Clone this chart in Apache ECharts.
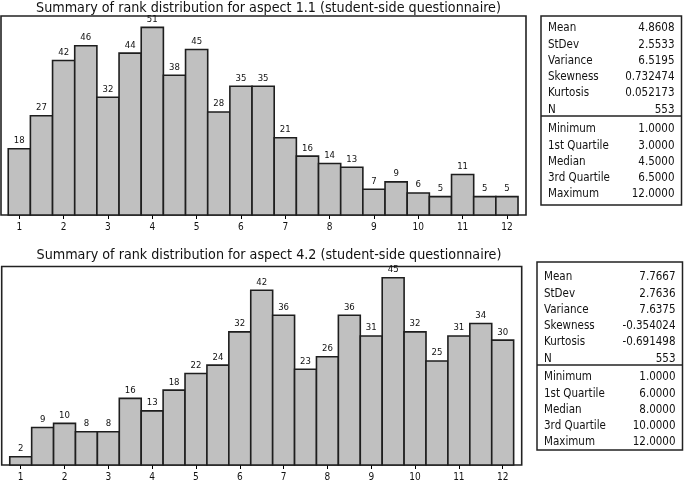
<!DOCTYPE html>
<html><head><meta charset="utf-8">
<script src="https://cdn.jsdelivr.net/npm/echarts@6/dist/echarts.min.js"></script>
<style>html,body{margin:0;padding:0;background:#fff}#c{width:685px;height:482px}</style>
</head><body><div id="c"></div>
<script>
const binCenters = [1,1.5,2,2.5,3,3.5,4,4.5,5,5.5,6,6.5,7,7.5,8,8.5,9,9.5,10,10.5,11,11.5,12];
const tickValues = [1,2,3,4,5,6,7,8,9,10,11,12];
const counts11 = [18,27,42,46,32,44,51,38,45,28,35,35,21,16,14,13,7,9,6,5,11,5,5];
const counts42 = [2,9,10,8,8,16,13,18,22,24,32,42,36,23,26,36,31,45,32,25,31,34,30];
const title11 = 'Summary of rank distribution for aspect 1.1 (student-side questionnaire)';
const title42 = 'Summary of rank distribution for aspect 4.2 (student-side questionnaire)';
const statLabelsA = ['Mean','StDev','Variance','Skewness','Kurtosis','N'];
const statLabelsB = ['Minimum','1st Quartile','Median','3rd Quartile','Maximum'];
const stats11A = ['4.8608','2.5533','6.5195','0.732474','0.052173','553'];
const stats11B = ['1.0000','3.0000','4.5000','6.5000','12.0000'];
const stats42A = ['7.7667','2.7636','7.6375','-0.354024','-0.691498','553'];
const stats42B = ['1.0000','6.0000','8.0000','10.0000','12.0000'];

const FONT = '"DejaVu Sans Condensed", "DejaVu Sans"';
const chart = echarts.init(document.getElementById('c'));

function barSeries(idx, counts){
  return {
    type:'custom', xAxisIndex:idx, yAxisIndex:idx,
    data: binCenters.map((c,i)=>[c, counts[i]]),
    renderItem(params, api){
      const x = api.value(0), y = api.value(1);
      const p0 = api.coord([x-0.25, y]);
      const p1 = api.coord([x+0.25, 0]);
      return {
        type:'group',
        children:[
          {type:'rect', shape:{x:p0[0], y:p0[1], width:p1[0]-p0[0], height:p1[1]-p0[1]},
           style:{fill:'#c0c0c0', stroke:'#1e1e1e', lineWidth:1.6}},
          {type:'text', x:(p0[0]+p1[0])/2, y:p0[1]-3,
           style:{text:String(y), textAlign:'center', textVerticalAlign:'bottom', font:'9.5px '+FONT, fill:'#111'}}
        ]
      };
    }
  };
}

function xAxisCfg(idx, min, max){
  return {
    type:'value', gridIndex:idx, min:min, max:max,
    axisLine:{show:false},
    splitLine:{show:false},
    axisTick:{show:true, customValues:tickValues, length:4, lineStyle:{color:'#000', width:1}},
    axisLabel:{customValues:tickValues, color:'#111', fontFamily:'DejaVu Sans Condensed', fontSize:10, margin:7}
  };
}
function yAxisCfg(idx, max){
  return {type:'value', gridIndex:idx, min:0, max:max, show:false, splitLine:{show:false}};
}

function statBox(x, y, w, h, divY, labelsA, valsA, labelsB, valsB, rowsA, rowsB){
  const els = [
    {type:'rect', shape:{x:x, y:y, width:w, height:h}, style:{fill:'#fff', stroke:'#222', lineWidth:1.5}},
    {type:'line', shape:{x1:x, y1:divY, x2:x+w, y2:divY}, style:{stroke:'#222', lineWidth:1.5}}
  ];
  const add = (l, v, yy) => {
    els.push({type:'text', x:x+7, y:yy, style:{text:l, textAlign:'left', textVerticalAlign:'middle', font:'11.5px '+FONT, fill:'#111'}});
    els.push({type:'text', x:x+w-7, y:yy, style:{text:v, textAlign:'right', textVerticalAlign:'middle', font:'11.5px '+FONT, fill:'#111'}});
  };
  labelsA.forEach((l,i)=>add(l, valsA[i], rowsA[i]));
  labelsB.forEach((l,i)=>add(l, valsB[i], rowsB[i]));
  return els;
}

const option = {
  animation:false,
  backgroundColor:'#fff',
  grid:[
    {left:1, top:16, width:525, height:199, show:true, borderColor:'#222', borderWidth:1.6, backgroundColor:'#fff'},
    {left:1.7, top:266.5, width:520, height:199.5, show:true, borderColor:'#222', borderWidth:1.6, backgroundColor:'#fff'}
  ],
  xAxis:[xAxisCfg(0, 0.587, 12.43), xAxisCfg(1, 0.566, 12.434)],
  yAxis:[yAxisCfg(0, 54.1), yAxisCfg(1, 47.7)],
  series:[barSeries(0, counts11), barSeries(1, counts42)],
  graphic:[
    {type:'text', x:268.5, y:8, style:{text:title11, textAlign:'center', textVerticalAlign:'middle', font:'14.2px '+FONT, fill:'#111'}},
    {type:'text', x:269, y:255.5, style:{text:title42, textAlign:'center', textVerticalAlign:'middle', font:'14.2px '+FONT, fill:'#111'}},
    ...statBox(541, 16, 140.5, 189, 116, statLabelsA, stats11A, statLabelsB, stats11B,
      [28,45,61,77,93,110],[129,146,162,178,194]),
    ...statBox(537, 262, 145.5, 188, 365, statLabelsA, stats42A, statLabelsB, stats42B,
      [277,294,310,326,342,359],[377,394,410,426,442])
  ]
};
chart.setOption(option);
</script></body></html>
